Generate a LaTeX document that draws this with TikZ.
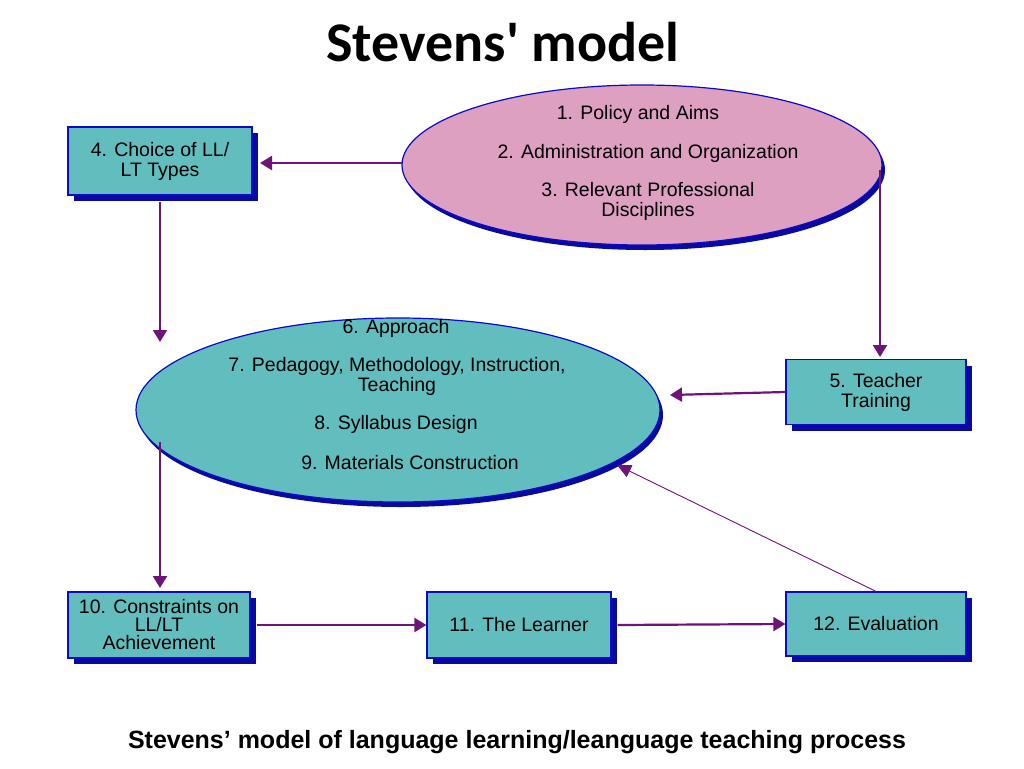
\documentclass[tikz,border=0pt]{standalone}
\usepackage{fontspec}
\setmainfont{Liberation Sans}
\newfontfamily\titlefont{Carlito}
\usetikzlibrary{arrows.meta,shapes.geometric}
\definecolor{teal1}{RGB}{98,190,190}
\definecolor{pink1}{RGB}{222,160,192}
\definecolor{edgeb}{RGB}{10,10,200}
\definecolor{shad}{RGB}{10,10,160}
\definecolor{arr}{RGB}{110,20,120}
\tikzset{
 box/.style={draw=edgeb,line width=1.2pt,fill=teal1,align=center,font=\fontsize{19.5}{20}\selectfont},
 conn/.style={draw=arr,line width=2.2pt,-{Triangle[length=12pt,width=14pt]}},
 thin conn/.style={draw=arr,line width=0.9pt,-{Triangle[length=14pt,width=13pt]}},
 txt/.style={font=\fontsize{19.5}{20}\selectfont,align=center}
}
\begin{document}
\begin{tikzpicture}[x=1pt,y=-1pt]
\useasboundingbox (0,0) rectangle (1024,768);
\fill[white] (0,0) rectangle (1024,768);
\node[font=\titlefont\bfseries\fontsize{56}{60}\selectfont] (title) at (503,42) {Stevens{\char"0027} model};
\node[font=\bfseries\fontsize{25}{28}\selectfont] (cap) at (517,742) {Stevens{\char"0027} model of language learning/leanguage teaching process};
% shadows
\foreach \a/\b/\c/\d in {68/127/252/195, 786/360/966/425, 68/592/250/658, 427/592/611/658, 786/592/966/656}
  \fill[shad] (\a+6,\b+6) rectangle (\c+6,\d+6);
\fill[shad] (645,170) ellipse [x radius=240,y radius=80];
\fill[shad] (401,415) ellipse [x radius=262,y radius=92];
% ellipses
\node[ellipse,draw=edgeb,line width=1.2pt,fill=pink1,minimum width=480pt,minimum height=160pt] (pe) at (642,165) {};
\node[ellipse,draw=edgeb,line width=1.2pt,fill=teal1,minimum width=524pt,minimum height=184pt] (te) at (398,410) {};
\node[txt] (t1) at (638,114) {1. Policy and Aims};
\node[txt] (t2) at (648,153) {2. Administration and Organization};
\node[txt] (t3) at (648,201) {3. Relevant Professional\\Disciplines};
\node[txt] (t6) at (396,328) {6. Approach};
\node[txt] (t7) at (397,376) {7. Pedagogy, Methodology, Instruction,\\Teaching};
\node[txt] (t8) at (396,424) {8. Syllabus Design};
\node[txt] (t9) at (410,463) {9. Materials Construction};
% boxes
\node[box,minimum width=184pt,minimum height=68pt] (b4) at (160,161) {4. Choice of LL/\\LT Types};
\node[box,minimum width=180pt,minimum height=65pt] (b5) at (876,392) {5. Teacher\\Training};
\node[box,minimum width=182pt,minimum height=66pt,font=\fontsize{19.5}{18}\selectfont] (b10) at (159,625) {10. Constraints on\\LL/LT\\Achievement};
\node[box,minimum width=184pt,minimum height=66pt] (b11) at (519,625) {11. The Learner};
\node[box,minimum width=180pt,minimum height=64pt] (b12) at (876,624) {12. Evaluation};
% connectors
\coordinate (pl) at (402,163);
\coordinate (pr) at (880,170);
\coordinate (tl) at (160,342);
\coordinate (tb) at (160,442);
\coordinate (tr) at (670,395);
\coordinate (tse) at (617,465);
\draw[conn] (pl) -- (260,163);
\draw[conn] (b4.south) ++(0,6) -- (tl);
\draw[conn] (pr) -- (880,357);
\draw[conn] (b5.west) -- (tr);
\draw[thin conn] (b12.north) -- (tse);
\draw[conn] (tb) -- (160,588);
\draw[conn] (b10.east) ++(6,0) -- (b11.west);
\draw[conn] (b11.east) ++(6,0) -- (b12.west);
\end{tikzpicture}
\end{document}
